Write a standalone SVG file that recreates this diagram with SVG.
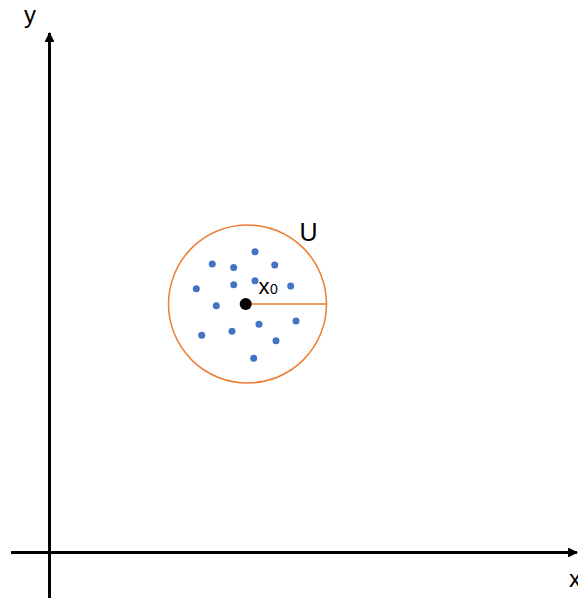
<svg xmlns="http://www.w3.org/2000/svg" width="578" height="598" viewBox="0 0 578 598">
<style>
.lbl{font-family:"Liberation Sans",Arial,sans-serif;fill:#000}
.axis{stroke:#000;stroke-width:3;fill:none}
.pt{fill:#4472C4}
</style>
<defs>
<marker id="ah" viewBox="0 0 10 10" refX="9" refY="5" markerWidth="3.3" markerHeight="3.3" orient="auto" markerUnits="strokeWidth">
<path d="M0,0 L10,5 L0,10 z" fill="#000"/>
</marker>
</defs>
<rect width="578" height="598" fill="#fff"/>
<g id="connectors">
<line class="axis" x1="49.5" y1="598" x2="49.5" y2="33" marker-end="url(#ah)"/>
<line class="axis" x1="11" y1="552.5" x2="577" y2="552.5" marker-end="url(#ah)"/>
</g>
<g id="labels">
<text class="lbl" x="24" y="23" font-size="24">y</text>
<text class="lbl" x="569" y="587" font-size="24">x</text>
</g>
<g id="neighborhood">
<circle cx="247.5" cy="304" r="79" fill="none" stroke="#ED7D31" stroke-width="1.5"/>
<line x1="246" y1="304" x2="326.5" y2="304" stroke="#ED7D31" stroke-width="1.5"/>
<text class="lbl" x="299.5" y="241" font-size="25">U</text>
</g>
<g id="points">
<circle class="pt" cx="255" cy="251.7" r="3.5"/>
<circle class="pt" cx="212.3" cy="264" r="3.5"/>
<circle class="pt" cx="233.7" cy="267.5" r="3.5"/>
<circle class="pt" cx="274.7" cy="265" r="3.5"/>
<circle class="pt" cx="196.3" cy="288.7" r="3.5"/>
<circle class="pt" cx="233.7" cy="284.7" r="3.5"/>
<circle class="pt" cx="255" cy="280.7" r="3.5"/>
<circle class="pt" cx="290.7" cy="286" r="3.5"/>
<circle class="pt" cx="216.3" cy="305.7" r="3.5"/>
<circle class="pt" cx="259" cy="324.3" r="3.5"/>
<circle class="pt" cx="296" cy="321" r="3.5"/>
<circle class="pt" cx="201.7" cy="335.3" r="3.5"/>
<circle class="pt" cx="232" cy="331.3" r="3.5"/>
<circle class="pt" cx="276" cy="340.7" r="3.5"/>
<circle class="pt" cx="253.7" cy="358.3" r="3.5"/>
</g>
<g id="x0">
<circle cx="245.7" cy="304" r="6" fill="#000"/>
<text class="lbl" x="258.5" y="294" font-size="22">x<tspan font-size="14" dx="0.5">0</tspan></text>
</g>
</svg>
